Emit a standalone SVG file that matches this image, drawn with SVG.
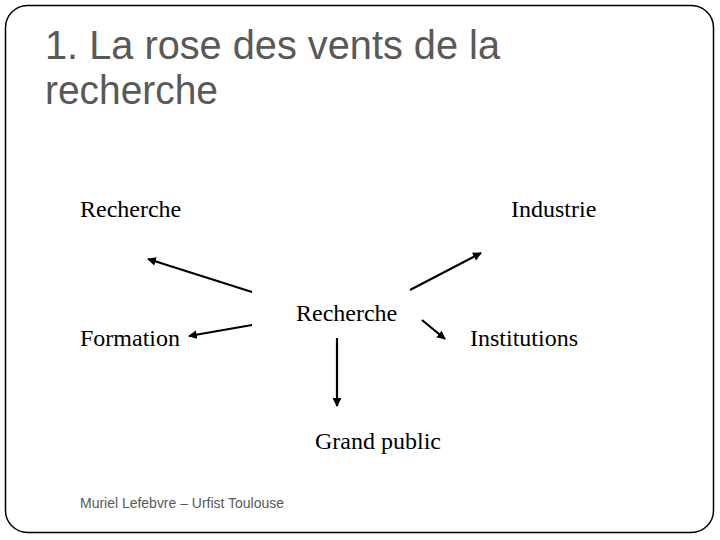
<svg xmlns="http://www.w3.org/2000/svg" width="720" height="540" viewBox="0 0 720 540">
  <style>
    .title { font-family: "Liberation Sans", Arial, sans-serif; font-size: 41px; fill: #595959; }
    .lbl { font-family: "Liberation Serif", "Times New Roman", serif; font-size: 24px; fill: #000; }
    .foot { font-family: "Liberation Sans", Arial, sans-serif; font-size: 14px; fill: #595959; }
    .conn { stroke: #000; stroke-width: 2.2; fill: none; marker-end: url(#ah); }
  </style>
  <defs>
    <marker id="ah" viewBox="0 0 10 10" refX="9" refY="5" markerWidth="4" markerHeight="4" orient="auto" markerUnits="strokeWidth">
      <path d="M0,0 L10,5 L0,10 z" fill="#000"/>
    </marker>
  </defs>
  <rect x="0" y="0" width="720" height="540" fill="#fff"/>
  <rect id="frame" x="5.5" y="5.5" width="708" height="527" rx="22" ry="22" fill="none" stroke="#000" stroke-width="1.5"/>
  <g id="title">
    <text class="title" x="45" y="59" textLength="455" lengthAdjust="spacingAndGlyphs">1. La rose des vents de la</text>
    <text class="title" x="45" y="104" textLength="173" lengthAdjust="spacingAndGlyphs">recherche</text>
  </g>
  <g id="connectors">
    <line class="conn" x1="252" y1="292" x2="148" y2="259"/>
    <line class="conn" x1="252" y1="325" x2="189" y2="336"/>
    <line class="conn" x1="410" y1="290" x2="481" y2="253"/>
    <line class="conn" x1="422" y1="320" x2="445" y2="339"/>
    <line class="conn" x1="337" y1="338" x2="337" y2="406"/>
  </g>
  <g id="n-recherche-top"><text class="lbl" x="80" y="217">Recherche</text></g>
  <g id="n-industrie"><text class="lbl" x="511" y="217">Industrie</text></g>
  <g id="n-recherche-center"><text class="lbl" x="296" y="321">Recherche</text></g>
  <g id="n-formation"><text class="lbl" x="80" y="346">Formation</text></g>
  <g id="n-institutions"><text class="lbl" x="470" y="346">Institutions</text></g>
  <g id="n-grand-public"><text class="lbl" x="315" y="449">Grand public</text></g>
  <g id="footer"><text class="foot" x="80" y="508" textLength="204" lengthAdjust="spacingAndGlyphs">Muriel Lefebvre – Urfist Toulouse</text></g>
</svg>
